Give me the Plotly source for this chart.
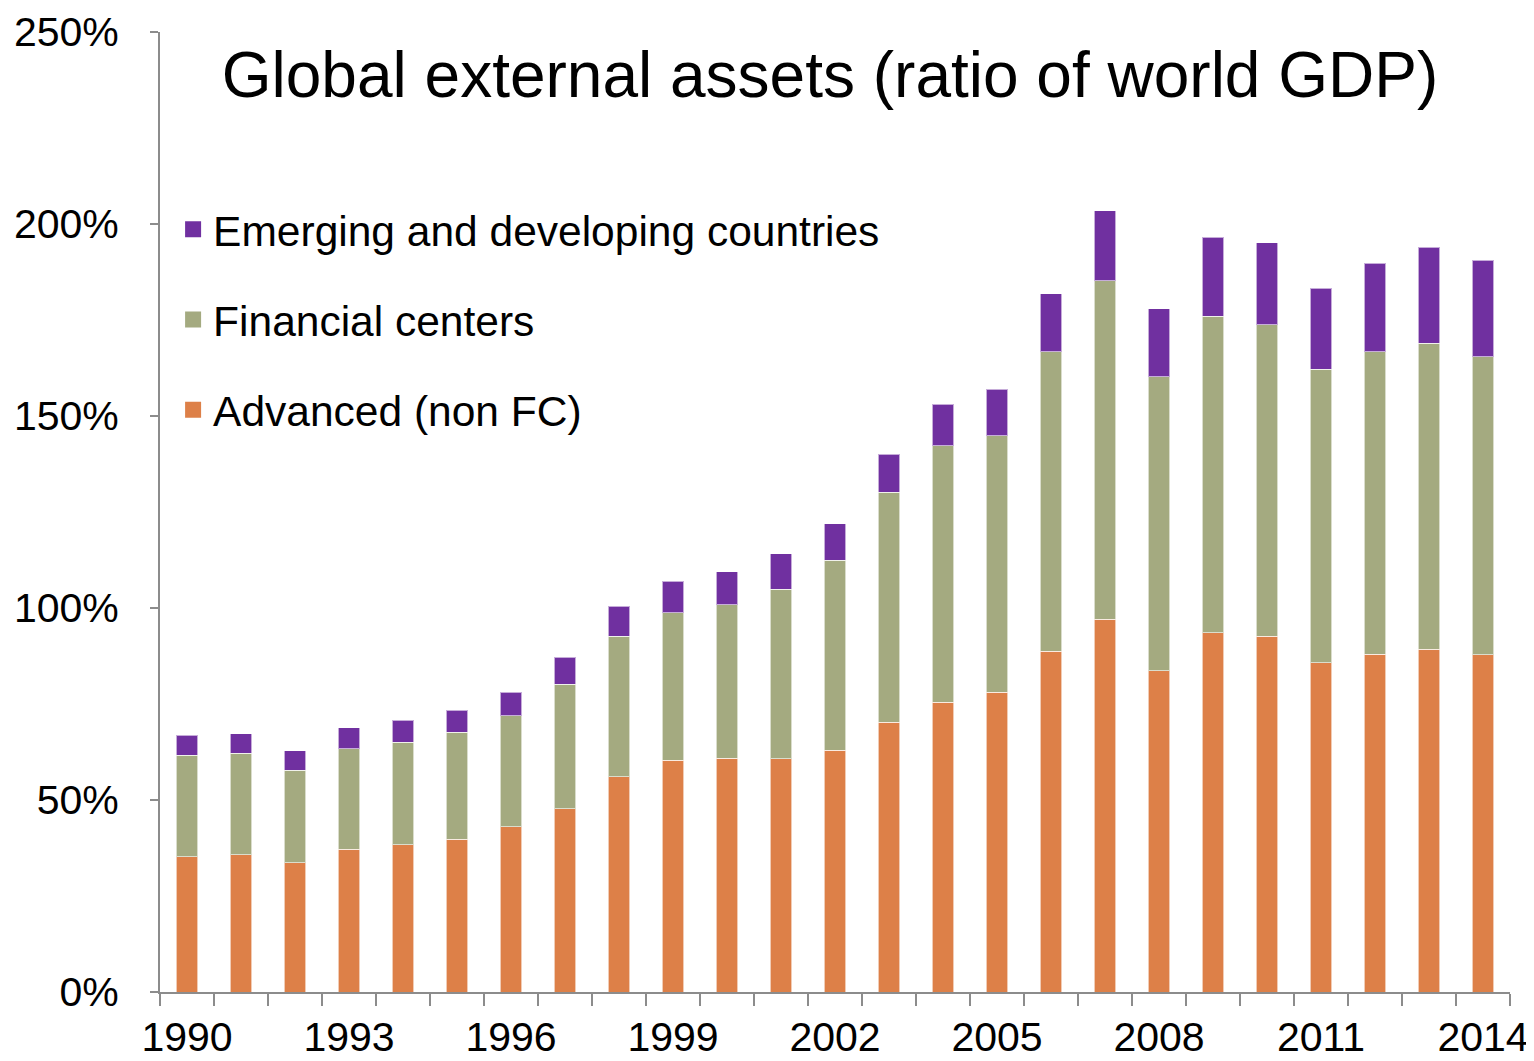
import plotly.graph_objects as go

years = [str(y) for y in range(1990, 2015)]
advanced = [35.2, 35.7, 33.6, 37.2, 38.3, 39.8, 43.0, 47.7, 56.0, 60.4, 60.9, 60.7, 63.0,
            70.3, 75.5, 78.1, 88.8, 97.1, 83.6, 93.5, 92.7, 85.7, 88.0, 89.3, 87.8]
fc_top = [61.7, 62.2, 57.8, 63.3, 65.1, 67.7, 71.9, 80.2, 92.7, 98.7, 100.8, 104.9, 112.5,
          130.2, 142.2, 144.8, 166.7, 185.2, 160.2, 176.0, 173.7, 162.2, 166.7, 169.0, 165.4]
total = [66.9, 67.2, 62.8, 68.75, 70.8, 73.4, 78.1, 87.2, 100.5, 107.0, 109.4, 114.1, 121.9,
         140.1, 153.1, 157.0, 181.8, 203.4, 177.9, 196.6, 195.1, 183.3, 189.8, 194.0, 190.6]
financial = [round(f - a, 1) for f, a in zip(fc_top, advanced)]
emerging = [round(t - f, 1) for t, f in zip(total, fc_top)]

tick_text = [y if (int(y) - 1990) % 3 == 0 else "" for y in years]
y_ticks = [0, 50, 100, 150, 200, 250]
y_labels = ["0%", "50%", "100%", "150%", "200%", "250%"]

FONT = "Liberation Sans, Arial, sans-serif"

fig = go.Figure()
series = [
    ("Advanced (non FC)", advanced, "#DD8048", 3),
    ("Financial centers", financial, "#A4AA80", 2),
    ("Emerging and developing countries", emerging, "#7030A0", 1),
]
for name, vals, col, rank in series:
    fig.add_trace(go.Bar(
        x=years, y=vals, name=name, legendgroup=name, showlegend=False,
        marker=dict(color=col, line=dict(color="rgba(255,255,255,0.6)", width=1)),
    ))
    # legend entry with a larger square swatch
    fig.add_trace(go.Scatter(
        x=[None], y=[None], mode="markers", name=name, legendgroup=name,
        legendrank=rank, marker=dict(symbol="square", size=22, color=col),
        showlegend=True,
    ))

fig.update_layout(
    width=1534, height=1061,
    barmode="stack", bargap=0.6,
    plot_bgcolor="white", paper_bgcolor="white",
    margin=dict(l=152, r=32, t=24, b=77),
    font=dict(family=FONT, color="black", size=41),
    title=dict(text="Global external assets (ratio of world GDP)",
               x=822 / 1534, xanchor="center", y=0.937, yanchor="middle",
               font=dict(size=64, family=FONT, color="black")),
    legend=dict(x=0.0097, y=0.83, xanchor="left", yanchor="top",
                traceorder="grouped", tracegroupgap=32,
                itemsizing="trace",
                font=dict(size=42.5, family=FONT, color="black"),
                bgcolor="rgba(0,0,0,0)"),
    showlegend=True,
)
fig.update_xaxes(
    type="category", tickmode="array", tickvals=years, ticktext=tick_text,
    tickson="boundaries", ticks="outside", ticklen=12, tickwidth=2, tickcolor="#8c8c8c",
    showline=True, linecolor="#8c8c8c", linewidth=2, showgrid=False, tickangle=0,
    tickfont=dict(size=41, family=FONT), range=[-0.5, 24.5], automargin=False,
    ticklabelstandoff=8,
)
fig.update_yaxes(
    range=[0, 250], tickmode="array", tickvals=y_ticks, ticktext=y_labels,
    ticks="outside", ticklen=8, tickwidth=2, tickcolor="#8c8c8c",
    showline=True, linecolor="#8c8c8c", linewidth=2, showgrid=False, zeroline=False,
    tickfont=dict(size=41, family=FONT), ticklabelstandoff=23, automargin=False,
)

fig.write_html("out.html")
